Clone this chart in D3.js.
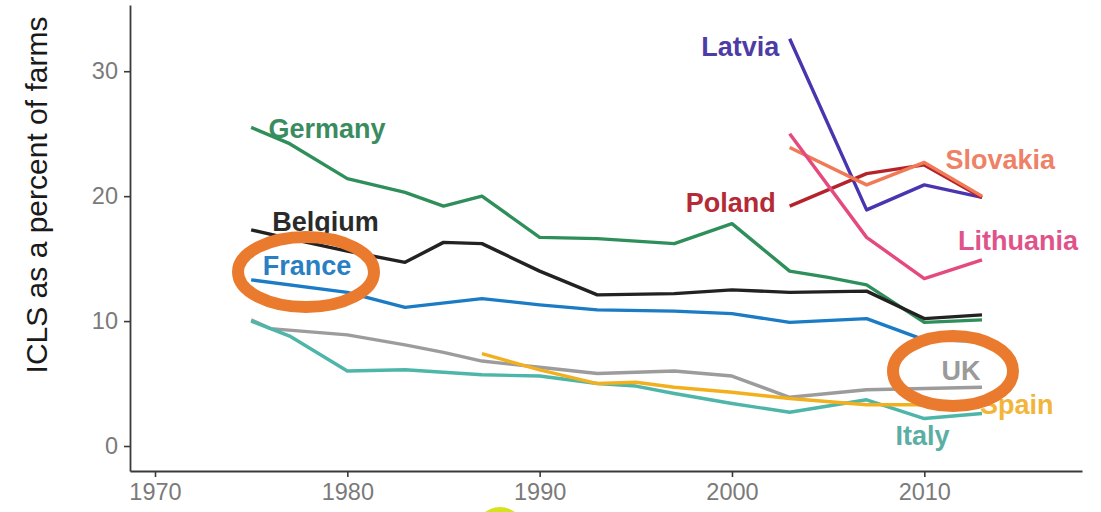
<!DOCTYPE html>
<html><head><meta charset="utf-8">
<script src="https://cdn.jsdelivr.net/npm/d3@7"></script>
<style>body{margin:0;background:#fff;} svg{display:block;font-family:"Liberation Sans",Arial,sans-serif;}</style>
</head><body><svg id="c" width="1101" height="512"></svg>
<script>
const xTicks = [1970, 1980, 1990, 2000, 2010];
const yTicks = [0, 10, 20, 30];
const countries = ["Germany","Belgium","France","UK","Italy","Spain","Latvia","Poland","Slovakia","Lithuania"];
const colors = ["#2f8f5b","#222222","#1b7bc4","#9c9c9c","#4db6a9","#f2b01e","#4a35b0","#b5222b","#f07a55","#e44a7d"];
const labelColors = ["#3a8c60","#2a2a2a","#2a7fc2","#9a9a9a","#5aaea3","#f2b53a","#4d3ca6","#b42a36","#ee8166","#e0538a"];
const germanyYears = [1975,1977,1980,1983,1985,1987,1990,1993,1995,1997,2000,2003,2005,2007,2010,2013];
const germanyVals  = [25.5,24.2,21.4,20.3,19.2,20.0,16.7,16.6,16.4,16.2,17.8,14.0,13.5,12.9,9.9,10.1];
const belgiumYears = [1975,1977,1980,1983,1985,1987,1990,1993,1997,2000,2003,2007,2010,2013];
const belgiumVals  = [17.3,16.6,15.6,14.7,16.3,16.2,14.0,12.1,12.2,12.5,12.3,12.4,10.2,10.5];
const franceYears = [1975,1980,1983,1987,1990,1993,1997,2000,2003,2007,2010,2013];
const franceVals  = [13.3,12.3,11.1,11.8,11.3,10.9,10.8,10.6,9.9,10.2,8.5,8.4];
const ukYears = [1975,1976,1980,1983,1985,1987,1990,1993,1997,2000,2003,2007,2010,2013];
const ukVals  = [10.1,9.4,8.9,8.1,7.5,6.8,6.3,5.8,6.0,5.6,3.9,4.5,4.6,4.7];
const italyYears = [1975,1977,1980,1983,1985,1987,1990,1993,1995,1997,2000,2003,2007,2010,2013];
const italyVals  = [10.0,8.8,6.0,6.1,5.9,5.7,5.6,5.0,4.8,4.2,3.4,2.7,3.7,2.2,2.6];
const spainYears = [1987,1990,1993,1995,1997,2000,2003,2007,2010,2013];
const spainVals  = [7.4,6.1,5.0,5.1,4.7,4.3,3.8,3.3,3.3,3.3];
const latviaYears = [2003,2007,2010,2013];
const latviaVals  = [32.6,18.9,20.9,19.9];
const polandYears = [2003,2007,2010,2013];
const polandVals  = [19.2,21.8,22.5,19.9];
const slovakiaYears = [2003,2007,2010,2013];
const slovakiaVals  = [23.9,20.9,22.7,20.0];
const lithuaniaYears = [2003,2007,2010,2013];
const lithuaniaVals  = [25.0,16.7,13.4,14.9];
const yearsList = [germanyYears,belgiumYears,franceYears,ukYears,italyYears,spainYears,latviaYears,polandYears,slovakiaYears,lithuaniaYears];
const valsList = [germanyVals,belgiumVals,franceVals,ukVals,italyVals,spainVals,latviaVals,polandVals,slovakiaVals,lithuaniaVals];
// label anchor positions (left edge) in data units (year, value)
const labelYears = [1975.9, 1976.1, 1975.6, 2010.9, 2008.5, 2012.9, 1998.4, 1997.6, 2011.1, 2011.75];
const labelVals  = [25.4, 17.9, 14.4, 6.0, 0.8, 3.3, 31.9, 19.45, 22.9, 16.4];

const svg = d3.select("#c");
const x = d3.scaleLinear().domain([1968.7, 2018.2]).range([130, 1082]);
const y = d3.scaleLinear().domain([-2, 35.3]).range([471, 5]);

const xAxis = svg.append("g").attr("transform","translate(0,471)")
  .call(d3.axisBottom(x).tickValues(xTicks).tickFormat(d3.format("d")).tickSize(6).tickPadding(6).tickSizeOuter(0));
const yAxis = svg.append("g").attr("transform","translate(130,0)")
  .call(d3.axisLeft(y).tickValues(yTicks).tickSize(6).tickPadding(6).tickSizeOuter(0));
[xAxis,yAxis].forEach(a=>{
  a.select(".domain").attr("stroke","#3a3a3a").attr("stroke-width",1.8);
  a.selectAll(".tick line").attr("stroke","#3a3a3a").attr("stroke-width",1.6);
  a.selectAll(".tick text").attr("fill","#7a7a7a").attr("font-size",23.5).attr("font-family","Liberation Sans, Arial, sans-serif");
});

svg.append("text").attr("transform","translate(47,195) rotate(-90)")
  .attr("text-anchor","middle").attr("font-size",30).attr("fill","#1a1a1a")
  .text("ICLS as a percent of farms");

const line = d3.line().x(d=>x(d[0])).y(d=>y(d[1]));
countries.forEach((c,i)=>{
  const pts = yearsList[i].map((yr,j)=>[yr, valsList[i][j]]);
  svg.append("path").datum(pts).attr("d",line).attr("fill","none")
    .attr("stroke",colors[i]).attr("stroke-width",3.4).attr("stroke-linejoin","round");
});
countries.forEach((c,i)=>{
  svg.append("text").attr("x",x(labelYears[i])).attr("y",y(labelVals[i]))
    .attr("text-anchor","start").attr("dominant-baseline","central")
    .attr("font-size",27).attr("font-weight","bold").attr("fill",labelColors[i]).text(c);
});

svg.append("ellipse").attr("cx",306).attr("cy",272).attr("rx",68).attr("ry",35)
  .attr("fill","none").attr("stroke","#ea7b2e").attr("stroke-width",12);
svg.append("ellipse").attr("cx",953).attr("cy",371).attr("rx",60).attr("ry",35)
  .attr("fill","none").attr("stroke","#ea7b2e").attr("stroke-width",12);
svg.append("circle").attr("cx",500).attr("cy",532).attr("r",25).attr("fill","#d4e31c");
</script></body></html>
